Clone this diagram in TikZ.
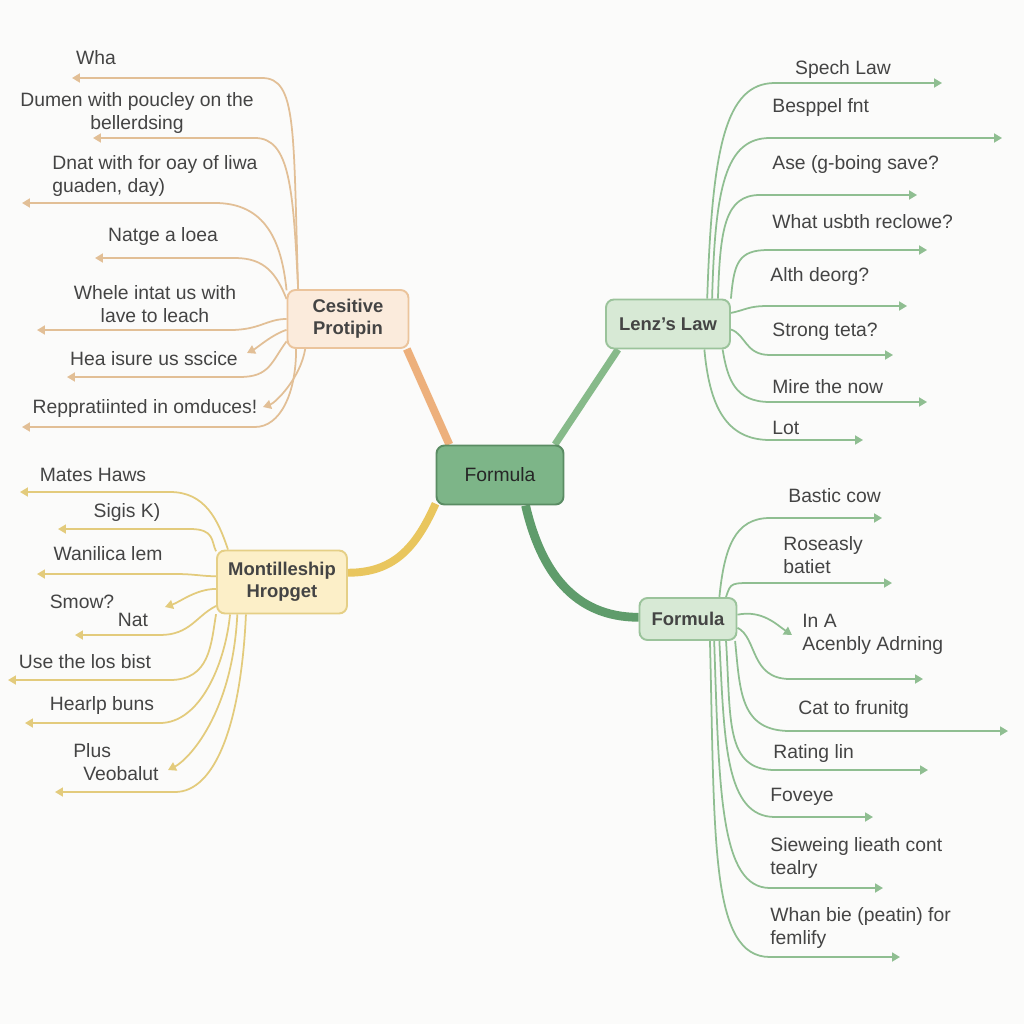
\documentclass[tikz,border=0pt]{standalone}
\usepackage{fontspec}
\setmainfont{Liberation Sans}
\usetikzlibrary{arrows.meta,calc,backgrounds}
\definecolor{mapink}{HTML}{444444}
\definecolor{mapbg}{HTML}{FBFBFA}
\definecolor{oline}{HTML}{E2BF96}
\definecolor{omain}{HTML}{EDB07C}
\definecolor{yline}{HTML}{E3CB7C}
\definecolor{ymain}{HTML}{E9C65E}
\definecolor{gline}{HTML}{8FBE91}
\definecolor{gmain}{HTML}{87BA8A}
\definecolor{gdark}{HTML}{5F9C6B}
\definecolor{ctrfill}{HTML}{7DB588}
\definecolor{ctrdraw}{HTML}{5A8C63}
\definecolor{ofill}{HTML}{FBEBDC}
\definecolor{odraw}{HTML}{EBC49C}
\definecolor{yfill}{HTML}{FCEFC8}
\definecolor{ydraw}{HTML}{E5CF86}
\definecolor{gfill}{HTML}{D7E9D5}
\definecolor{gdraw}{HTML}{9BC39B}
\tikzset{
    box/.style={rectangle,rounded corners=1.6mm,line width=1.1pt,inner sep=2pt,align=center,text=mapink},
    hub/.style={box,font=\fontsize{10.5}{12.5}\selectfont\bfseries},
    leaf/.style={inner sep=0pt,font=\fontsize{11}{13}\selectfont,text=mapink},
    tip/.style={-{Triangle[length=1.6mm,width=1.8mm]}},
    obr/.style={draw=oline,line width=1pt,tip},
    ybr/.style={draw=yline,line width=1pt,tip},
    gbr/.style={draw=gline,line width=1pt,tip},
}

\begin{document}
\begin{tikzpicture}[x=0.02cm,y=-0.02cm]
    \begin{scope}[on background layer]
        \fill[mapbg] (0,0) rectangle (1024,1024);
    \end{scope}

    % hubs
    \node[box,fill=ctrfill,draw=ctrdraw,minimum width=2.54cm,minimum height=1.18cm,
          font=\fontsize{11}{13}\selectfont,text=black!85] (ctr) at (500,475) {Formula};
    \node[hub,fill=ofill,draw=odraw,minimum width=2.42cm,minimum height=1.16cm] (cp) at (348,319) {Cesitive\\Protipin};
    \node[hub,fill=gfill,draw=gdraw,minimum width=2.48cm,minimum height=0.98cm] (lz) at (668,324) {Lenz's Law};
    \node[hub,fill=yfill,draw=ydraw,minimum width=2.6cm,minimum height=1.26cm] (mh) at (282,582) {Montilleship\\Hropget};
    \node[hub,fill=gfill,draw=gdraw,minimum width=1.94cm,minimum height=0.84cm] (fm) at (688,619) {Formula};

    % orange leaves
    \node[leaf] (o1) at (96,58) {Wha};
    \node[leaf,align=center] (o2) at (137,113) {Dumen with poucley on the\\bellerdsing};
    \node[leaf,align=left,anchor=west] (o3) at (52,176) {Dnat with for oay of liwa\\guaden, day)};
    \node[leaf] (o4) at (163,237) {Natge a loea};
    \node[leaf,align=center] (o5) at (155,304) {Whele intat us with\\lave to leach};
    \node[leaf] (o6) at (154,359) {Hea isure us sscice};
    \node[leaf] (o7) at (145,408) {Reppratiinted in omduces!};

    % yellow leaves
    \node[leaf] (y1) at (93,475) {Mates Haws};
    \node[leaf] (y2) at (127,512) {Sigis K)};
    \node[leaf] (y3) at (108,554) {Wanilica lem};
    \node[leaf] (y4) at (82,602) {Smow?};
    \node[leaf] (y5) at (133,620) {Nat};
    \node[leaf] (y6) at (85,662) {Use the los bist};
    \node[leaf] (y7) at (102,705) {Hearlp buns};
    \node[leaf,align=left,anchor=west] (y8) at (73,762) {Plus\\\hspace{5.7pt}Veobalut};

    % green leaves (Lenz)
    \node[leaf] (g1) at (843,70) {Spech Law};
    \node[leaf,anchor=west] (g2) at (772,108) {Besppel fnt};
    \node[leaf,anchor=west] (g3) at (772,165) {Ase (g-boing save?};
    \node[leaf,anchor=west] (g4) at (772,222) {What usbth reclowe?};
    \node[leaf,anchor=west] (g5) at (770,277) {Alth deorg?};
    \node[leaf,anchor=west] (g6) at (772,332) {Strong teta?};
    \node[leaf,anchor=west] (g7) at (772,387) {Mire the now};
    \node[leaf,anchor=west] (g8) at (772,428) {Lot};

    % green leaves (Formula)
    \node[leaf,anchor=west] (f1) at (788,496) {Bastic cow};
    \node[leaf,align=left,anchor=west] (f2) at (783,555) {Roseasly\\batiet};
    \node[leaf,align=left,anchor=west] (f3) at (802,634) {In A\\Acenbly Adrning};
    \node[leaf,anchor=west] (f4) at (798,709) {Cat to frunitg};
    \node[leaf,anchor=west] (f5) at (773,753) {Rating lin};
    \node[leaf,anchor=west] (f6) at (770,797) {Foveye};
    \node[leaf,align=left,anchor=west] (f7) at (770,858) {Sieweing lieath cont\\tealry};
    \node[leaf,align=left,anchor=west] (f8) at (770,928) {Whan bie (peatin) for\\femlify};

    % arrow ends
    \coordinate (ot1) at (72,78);   \coordinate (ot2) at (93,138);
    \coordinate (ot3) at (22,203);  \coordinate (ot4) at (95,258);
    \coordinate (ot5) at (37,330);  \coordinate (os6) at (247,353);
    \coordinate (ot6) at (67,377);  \coordinate (os7) at (263,407);
    \coordinate (ot7) at (22,427);
    \coordinate (yt1) at (20,492);  \coordinate (yt2) at (58,529);
    \coordinate (yt3) at (37,574);  \coordinate (ys4) at (165,607);
    \coordinate (yt5) at (75,635);  \coordinate (yt6) at (8,680);
    \coordinate (yt7) at (25,723);  \coordinate (ys8) at (168,770);
    \coordinate (yt8) at (55,792);
    \coordinate (gt1) at (942,83);  \coordinate (gt2) at (1002,138);
    \coordinate (gt3) at (917,195); \coordinate (gt4) at (927,250);
    \coordinate (gt5) at (907,306); \coordinate (gt6) at (893,355);
    \coordinate (gt7) at (927,402); \coordinate (gt8) at (863,440);
    \coordinate (ft1) at (882,518); \coordinate (ft2) at (892,583);
    \coordinate (fs3) at (792,635); \coordinate (ft3) at (923,679);
    \coordinate (ft4) at (1008,731); \coordinate (ft5) at (928,770);
    \coordinate (ft6) at (873,817); \coordinate (ft7) at (883,888);
    \coordinate (ft8) at (900,957);

    \begin{scope}[on background layer]
        % main branches
        \draw[omain,line width=4.5pt] (ctr.149) -- (cp.-27);
        \draw[gmain,line width=4pt] (ctr.29) -- (lz.-153);
        \draw[ymain,line width=4.5pt] (ctr.204) .. controls +(-20,45) and +(45,0) .. (mh.8);
        \draw[gdark,line width=5pt] (ctr.-50) .. controls +(15,65) and +(-65,0) .. (fm.178);

        % orange
        \draw[obr] (cp.149) .. controls +(-5,-160) and +(35,0) .. ($(ot1)+(190,0)$) -- (ot1);
        \draw[obr] (cp.149) .. controls +(-5,-100) and +(35,0) .. ($(ot2)+(162,0)$) -- (ot2);
        \draw[obr] (cp.155) .. controls +(-5,-50) and +(50,0) .. ($(ot3)+(193,0)$) -- (ot3);
        \draw[obr] (cp.162) .. controls +(-10,-25) and +(30,0) .. ($(ot4)+(140,0)$) -- (ot4);
        \draw[obr] (cp.180) .. controls +(-20,0) and +(30,0) .. ($(ot5)+(193,0)$) -- (ot5);
        \draw[obr] (cp.190) .. controls +(-15,5) and +(10,-5) .. (os6);
        \draw[obr] (cp.200) .. controls +(-15,20) and +(30,0) .. ($(ot6)+(173,0)$) -- (ot6);
        \draw[obr] (cp.215) .. controls +(-5,30) and +(12,-4) .. (os7);
        \draw[obr] (cp.210) .. controls +(0,45) and +(25,0) .. ($(ot7)+(233,0)$) -- (ot7);

        % yellow
        \draw[ybr] (mh.149) .. controls +(-10,-30) and +(35,0) .. ($(yt1)+(150,0)$) -- (yt1);
        \draw[ybr] (mh.155) .. controls +(-5,-10) and +(25,0) .. ($(yt2)+(132,0)$) -- (yt2);
        \draw[ybr] (mh.175) .. controls +(-15,0) and +(20,0) .. ($(yt3)+(138,0)$) -- (yt3);
        \draw[ybr] (mh.186) .. controls +(-20,0) and +(15,-5) .. (ys4);
        \draw[ybr] (mh.200) .. controls +(-20,10) and +(30,0) .. ($(yt5)+(85,0)$) -- (yt5);
        \draw[ybr] (mh.206) .. controls +(-5,30) and +(40,0) .. ($(yt6)+(162,0)$) -- (yt6);
        \draw[ybr] (mh.212) .. controls +(-5,50) and +(40,0) .. ($(yt7)+(135,0)$) -- (yt7);
        \draw[ybr] (mh.216) .. controls +(-5,100) and +(20,-10) .. (ys8);
        \draw[ybr] (mh.222) .. controls +(-5,110) and +(40,0) .. ($(yt8)+(120,0)$) -- (yt8);

        % green, Lenz
        \draw[gbr] (lz.33) .. controls +(5,-150) and +(-50,0) .. ($(gt1)-(167,0)$) -- (gt1);
        \draw[gbr] (lz.30) .. controls +(3,-110) and +(-45,0) .. ($(gt2)-(232,0)$) -- (gt2);
        \draw[gbr] (lz.27) .. controls +(2,-70) and +(-35,0) .. ($(gt3)-(157,0)$) -- (gt3);
        \draw[gbr] (lz.22) .. controls +(3,-35) and +(-30,0) .. ($(gt4)-(159,0)$) -- (gt4);
        \draw[gbr] (lz.10) .. controls +(15,-3) and +(-20,0) .. ($(gt5)-(139,0)$) -- (gt5);
        \draw[gbr] (lz.-5) .. controls +(15,5) and +(-25,0) .. ($(gt6)-(123,0)$) -- (gt6);
        \draw[gbr] (lz.-25) .. controls +(5,30) and +(-35,0) .. ($(gt7)-(157,0)$) -- (gt7);
        \draw[gbr] (lz.-35) .. controls +(5,55) and +(-45,0) .. ($(gt8)-(93,0)$) -- (gt8);

        % green, Formula
        \draw[gbr] (fm.35) .. controls +(5,-50) and +(-35,0) .. ($(ft1)-(112,0)$) -- (ft1);
        \draw[gbr] (fm.30) .. controls +(5,-15) and +(-30,0) .. ($(ft2)-(132,0)$) -- (ft2);
        \draw[gbr] (fm.5) .. controls +(25,-5) and +(-15,-10) .. (fs3);
        \draw[gbr] (fm.-10) .. controls +(20,10) and +(-40,0) .. ($(ft3)-(133,0)$) -- (ft3);
        \draw[gbr] (fm.-25) .. controls +(5,50) and +(-50,0) .. ($(ft4)-(218,0)$) -- (ft4);
        \draw[gbr] (fm.-30) .. controls +(5,80) and +(-50,0) .. ($(ft5)-(153,0)$) -- (ft5);
        \draw[gbr] (fm.-35) .. controls +(5,100) and +(-50,0) .. ($(ft6)-(98,0)$) -- (ft6);
        \draw[gbr] (fm.-40) .. controls +(5,150) and +(-50,0) .. ($(ft7)-(113,0)$) -- (ft7);
        \draw[gbr] (fm.-45) .. controls +(5,200) and +(-60,0) .. ($(ft8)-(130,0)$) -- (ft8);
    \end{scope}
\end{tikzpicture}
\end{document}
